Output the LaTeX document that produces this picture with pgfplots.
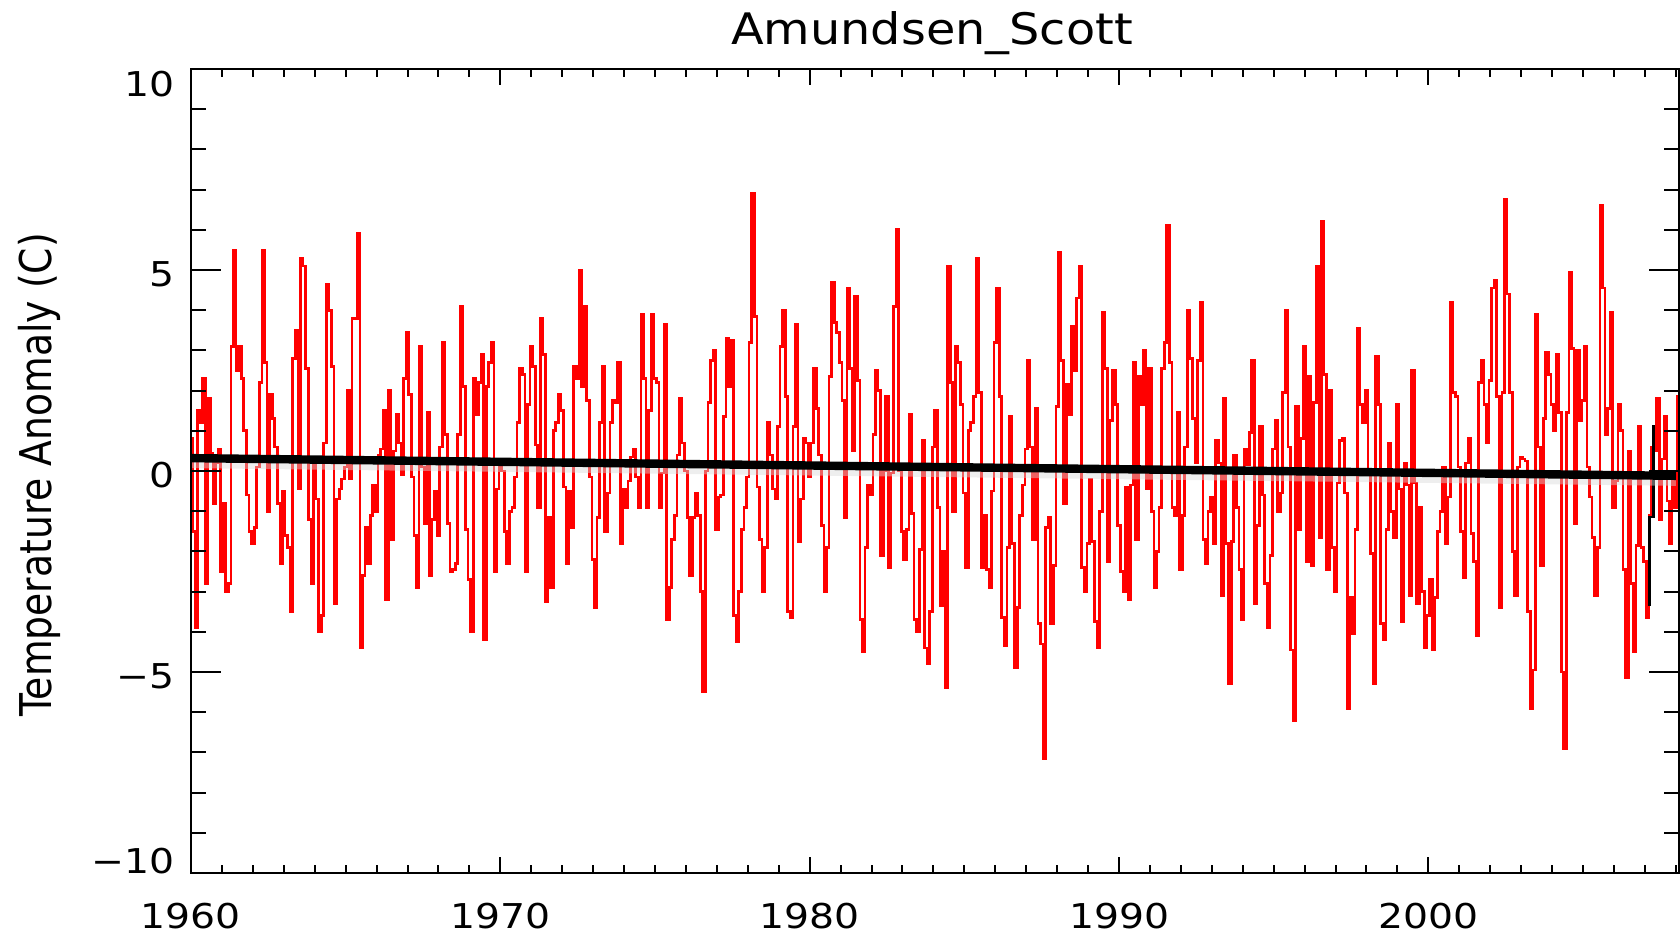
\documentclass[border=0pt]{standalone}
\usepackage{fontspec}
\setmainfont{DejaVu Sans}
\newfontfamily\tickfont[FakeStretch=1.15]{DejaVu Sans}
\newfontfamily\titlefont[FakeStretch=1.1]{DejaVu Sans}
\newfontfamily\labelfont[FakeStretch=0.86]{DejaVu Sans}
\usepackage{pgfplots}
\usepackage{pgfplotstable}
\pgfplotsset{compat=1.18}

% monthly anomalies, Jan 1960 ... Feb 2008 (one row of 12 per year)
\pgfplotstableread[row sep=\\]{
y\\
0.8\\ -1.5\\ -3.9\\ 1.5\\ 1.2\\ 2.3\\ -2.8\\ 1.8\\ 0.45\\ -0.8\\ 0.2\\ 0.55\\
-2.5\\ -0.8\\ -3.0\\ -2.8\\ 3.1\\ 5.5\\ 2.5\\ 3.1\\ 2.3\\ 1.0\\ -0.6\\ -1.5\\
-1.8\\ -1.4\\ 0.1\\ 2.2\\ 5.5\\ 2.7\\ -1.0\\ 1.9\\ 1.3\\ 0.6\\ -0.8\\ -2.3\\
-0.5\\ -1.6\\ -1.9\\ -3.5\\ 2.8\\ 3.5\\ -0.45\\ 5.3\\ 5.1\\ 2.55\\ -1.2\\ -2.8\\
0.2\\ -0.7\\ -4.0\\ -3.6\\ 0.7\\ 4.65\\ 4.0\\ 2.6\\ -3.3\\ -0.7\\ -0.45\\ -0.2\\
0.1\\ 2.0\\ -0.2\\ 3.8\\ 3.8\\ 5.9\\ -4.4\\ -2.6\\ -1.4\\ -2.3\\ -1.1\\ -0.35\\
-1.0\\ 0.4\\ 0.55\\ 1.5\\ -3.2\\ 2.0\\ -1.7\\ 0.5\\ 1.4\\ 0.7\\ -0.1\\ 2.3\\
3.45\\ 1.9\\ -0.15\\ -1.6\\ -2.9\\ 3.1\\ 0.1\\ -1.3\\ 1.45\\ -2.6\\ -1.2\\ -0.5\\
-1.6\\ 0.6\\ 3.2\\ 0.9\\ -1.3\\ -2.5\\ -2.45\\ -2.3\\ 0.9\\ 4.1\\ 2.1\\ -1.45\\
-2.7\\ -4.0\\ 2.3\\ 1.4\\ 2.2\\ 2.9\\ -4.2\\ 2.1\\ 2.7\\ 3.2\\ -2.5\\ -0.45\\
0.1\\ 0.0\\ -1.5\\ -2.3\\ -1.0\\ -0.9\\ -0.15\\ 1.2\\ 2.55\\ 2.4\\ -2.5\\ 1.65\\
3.1\\ 2.6\\ 0.65\\ -0.9\\ 3.8\\ 2.9\\ -3.25\\ -1.15\\ -2.9\\ 1.0\\ 1.2\\ 1.9\\
1.5\\ -0.4\\ -2.3\\ -0.5\\ -1.4\\ 2.6\\ 2.3\\ 5.0\\ 2.1\\ 4.1\\ 1.75\\ -0.15\\
-2.2\\ -3.4\\ -1.15\\ 1.2\\ 2.6\\ -1.5\\ -0.55\\ 1.2\\ 1.75\\ 1.7\\ 2.7\\ -1.8\\
-0.45\\ -0.9\\ -0.25\\ 0.35\\ 0.55\\ -0.15\\ -0.9\\ 3.9\\ 2.3\\ -0.9\\ 1.5\\ 3.9\\
2.3\\ 2.2\\ -0.9\\ -0.05\\ 3.65\\ -3.7\\ -2.9\\ -1.7\\ -1.1\\ 0.4\\ 1.8\\ 0.7\\
0.0\\ -1.15\\ -2.6\\ -1.15\\ -0.55\\ -1.1\\ -3.0\\ -5.5\\ 0.0\\ 1.7\\ 2.75\\ 3.0\\
-1.45\\ -0.65\\ -0.6\\ 1.35\\ 3.3\\ 2.1\\ 3.25\\ -3.6\\ -4.25\\ -3.0\\ -1.45\\ -0.9\\
-0.15\\ 3.2\\ 6.9\\ 3.85\\ -0.4\\ -1.7\\ -3.0\\ -1.9\\ 1.2\\ 0.4\\ -0.45\\ -0.7\\
1.1\\ 3.1\\ 4.0\\ 1.85\\ -3.5\\ -3.65\\ 1.1\\ 3.65\\ -1.75\\ -0.7\\ 0.8\\ 0.7\\
-0.15\\ 0.7\\ 2.55\\ 1.55\\ 0.4\\ -1.35\\ -3.0\\ -1.9\\ 2.35\\ 4.7\\ 3.7\\ 3.45\\
2.7\\ 1.75\\ -1.15\\ 4.55\\ 2.55\\ 0.5\\ 4.35\\ 2.25\\ -3.7\\ -4.5\\ -1.9\\ -0.35\\
-0.6\\ 0.9\\ 2.5\\ 2.0\\ -2.1\\ 0.0\\ 1.85\\ -2.4\\ -0.05\\ 4.1\\ 6.0\\ 0.0\\
-1.5\\ -2.2\\ -1.45\\ 1.4\\ -1.05\\ -3.7\\ -4.0\\ -1.95\\ 0.75\\ -4.4\\ -4.8\\ -3.5\\
0.6\\ 1.5\\ -0.9\\ -3.35\\ -2.0\\ -5.4\\ 5.1\\ 2.2\\ -1.0\\ 3.1\\ 2.7\\ 1.65\\
-0.55\\ -2.4\\ 1.0\\ 1.2\\ 1.85\\ 5.3\\ 1.95\\ -2.4\\ -1.1\\ -2.45\\ -2.9\\ -0.5\\
3.2\\ 4.55\\ 1.85\\ -3.65\\ -4.35\\ -1.9\\ 1.35\\ -1.8\\ -4.9\\ -3.4\\ -1.1\\ -0.35\\
0.55\\ 2.75\\ 0.6\\ -1.7\\ 1.55\\ -3.8\\ -4.3\\ -7.15\\ -1.4\\ -1.15\\ -3.8\\ -2.35\\
1.6\\ 5.45\\ 2.75\\ -0.8\\ 2.15\\ 1.4\\ 3.6\\ 2.5\\ 4.3\\ 5.1\\ -2.4\\ -3.0\\
-1.8\\ -0.2\\ -1.75\\ -3.75\\ -4.4\\ -1.0\\ 3.95\\ 2.55\\ -2.25\\ 1.25\\ 2.5\\ 1.65\\
-1.35\\ -2.5\\ -3.0\\ -0.4\\ -3.2\\ -0.35\\ 2.7\\ -1.7\\ 2.35\\ 1.65\\ 3.0\\ -0.45\\
2.55\\ -1.0\\ -2.9\\ -2.0\\ -0.9\\ 2.55\\ 3.2\\ 6.1\\ 2.7\\ -0.9\\ -1.1\\ 1.45\\
-2.45\\ -1.1\\ 0.6\\ 4.0\\ 2.8\\ 1.3\\ 0.2\\ 2.75\\ 4.2\\ -1.7\\ -2.3\\ -1.0\\
-0.65\\ -1.8\\ 0.75\\ 0.2\\ -3.1\\ 1.8\\ -1.8\\ -5.3\\ -1.75\\ 0.4\\ -0.9\\ -2.45\\
-3.7\\ 0.55\\ 0.15\\ 0.95\\ 2.75\\ -3.3\\ -1.35\\ 1.1\\ -0.6\\ -2.8\\ -3.9\\ -2.1\\
0.55\\ 1.25\\ -1.0\\ -0.55\\ 1.95\\ 4.0\\ 0.6\\ -4.45\\ -6.2\\ 1.6\\ -1.45\\ 0.8\\
3.1\\ -2.25\\ 2.35\\ -2.35\\ 1.7\\ 5.1\\ -1.65\\ 6.2\\ 2.4\\ -2.45\\ 2.0\\ -1.9\\
-3.0\\ -0.3\\ 0.75\\ 0.8\\ -0.55\\ -5.9\\ -3.15\\ -4.05\\ -1.45\\ 3.55\\ 1.65\\ 1.2\\
2.0\\ 0.0\\ -2.05\\ -5.3\\ 2.85\\ 1.65\\ -3.8\\ -4.2\\ -1.45\\ 0.7\\ -1.0\\ -1.65\\
1.65\\ -0.45\\ -3.75\\ 0.2\\ -0.35\\ -3.1\\ 2.5\\ -0.3\\ -3.3\\ -0.9\\ -3.0\\ -4.4\\
-3.6\\ -2.7\\ -4.45\\ -3.15\\ -1.5\\ -1.0\\ 0.1\\ -1.8\\ -0.65\\ 4.2\\ 1.95\\ 1.85\\
0.1\\ -1.5\\ -2.65\\ 0.2\\ 0.8\\ -1.55\\ -2.25\\ -4.1\\ 2.2\\ 2.75\\ 1.65\\ 0.7\\
2.25\\ 4.55\\ 4.75\\ 1.85\\ -3.4\\ 1.95\\ 6.75\\ 4.4\\ 1.95\\ -2.0\\ -3.1\\ 0.1\\
0.35\\ 0.3\\ 0.25\\ -3.5\\ -5.9\\ -4.95\\ 3.9\\ 0.6\\ -2.35\\ 1.3\\ 2.95\\ 2.4\\
1.65\\ 1.0\\ 2.9\\ 1.45\\ -5.0\\ -6.9\\ 1.45\\ 4.95\\ 3.05\\ -1.3\\ 3.0\\ 1.25\\
1.75\\ 3.1\\ 0.1\\ -0.65\\ -1.65\\ -3.1\\ -1.9\\ 6.6\\ 4.55\\ 0.9\\ 1.55\\ 3.95\\
-0.9\\ -0.25\\ 1.65\\ 1.0\\ -2.45\\ -5.15\\ 0.5\\ -2.8\\ -4.5\\ -1.85\\ 1.1\\ -1.9\\
-2.25\\ -3.65\\ -1.1\\ 0.6\\ 0.5\\ 1.8\\ -1.2\\ 0.3\\ 1.35\\ -0.75\\ -1.8\\ -0.2\\
-0.9\\ 1.85\\
}\anomaly

\begin{document}
\begin{tikzpicture}
\path[use as bounding box] (-95.5pt,-32pt) rectangle (744.5pt,436.5pt);
% main axis: data and x ticks
\begin{axis}[
  at={(0,0)}, anchor=south west,
  scale only axis, width=744pt, height=402pt,
  xmin=1960, xmax=2008.1, ymin=-10, ymax=10,
  xtick={1960,1970,1980,1990,2000},
  xticklabels={1960,1970,1980,1990,2000},
  minor xtick={1961,1962,...,2008},
  ytick=\empty,
  tick align=inside,
  major tick length=8pt, minor tick length=4.25pt,
  tick style={black, line width=1pt},
  axis line style={black, line width=1.3pt},
  xticklabel style={font=\tickfont\fontsize{17.1}{20}\selectfont, anchor=north, inner sep=0pt, yshift=-15pt},
]
\addplot[red, line width=1.35pt, const plot mark mid] table[x expr={1960+\coordindex/12}, y=y] {\anomaly};
\addplot[black, line width=1.2pt] coordinates {(2007.14,-3.35) (2007.14,-1.15) (2007.27,-1.15) (2007.27,1.15)};
\addplot[gray!30, opacity=0.45, line width=4pt, transform canvas={yshift=-3pt}] coordinates {(1960,0.32) (2008,-0.12)};
\addplot[black, line width=4.2pt] coordinates {(1960,0.32) (2008,-0.12)};
\end{axis}
% second axis: y ticks (longer tick marks)
\begin{axis}[
  at={(0,0)}, anchor=south west,
  scale only axis, width=744pt, height=402pt,
  xmin=1960, xmax=2008.1, ymin=-10, ymax=10,
  xtick=\empty,
  ytick={-10,-5,0,5,10},
  yticklabels={\raisebox{8pt}[\height][\depth]{−10},−5,0,5,\raisebox{-5.75pt}[\height][\depth]{10}},
  minor ytick={-9,-8,...,9},
  tick align=inside,
  major tick length=15pt, minor tick length=7.5pt,
  tick style={black, line width=1pt},
  axis line style={black, line width=1.3pt},
  yticklabel style={font=\tickfont\fontsize{17.1}{20}\selectfont, anchor=east, inner sep=0pt, xshift=-8pt, yshift=-2pt},
]
\end{axis}
\node[font=\titlefont\fontsize{21.7}{24}\selectfont, anchor=base, inner sep=0pt] at (370.5pt,414pt) {Amundsen\_Scott};
\node[font=\labelfont\fontsize{21.9}{24}\selectfont, rotate=90, anchor=base, inner sep=0pt] at (-69.5pt,199pt) {Temperature Anomaly (C)};
\end{tikzpicture}
\end{document}
